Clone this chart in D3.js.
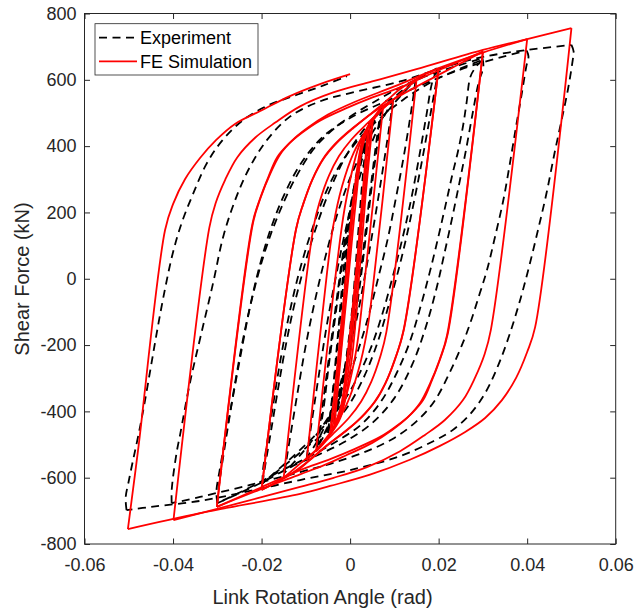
<!DOCTYPE html>
<html>
<head>
<meta charset="utf-8">
<script src="https://cdn.jsdelivr.net/npm/d3@7"></script>
<style>
  body { margin: 0; background: #fff; }
  svg { display: block; font-family: "Liberation Sans", Arial, sans-serif; }
</style>
</head>
<body>
<div id="chart"></div>
<script>
// axis ticks
var xTicks = [-0.06, -0.04, -0.02, 0, 0.02, 0.04, 0.06];
var yTicks = [-800, -600, -400, -200, 0, 200, 400, 600, 800];

// experiment, descending branches [rotation (rad), shear (kN)]
var expDown = [
  [[0.0500,705],[0.0505,685],[0.0503,660],[0.0492,570],[0.0478,480],[0.0462,380],[0.0444,260],[0.0425,150],[0.0405,40],[0.0385,-60],[0.0361,-165],[0.0335,-260],[0.0305,-345],[0.0270,-410],[0.0230,-458],[0.0188,-490],[0.0113,-535],[0,-577],[-0.0113,-607],[-0.0226,-640],[-0.0339,-670],[-0.0450,-688],[-0.0505,-698]],
  [[0.0399,688],[0.0403,670],[0.0398,640],[0.0388,560],[0.0375,460],[0.0360,340],[0.0346,236],[0.0328,130],[0.0310,30],[0.0293,-44],[0.0263,-165],[0.0226,-280],[0.0190,-370],[0.0150,-430],[0.0100,-480],[0.0038,-520],[-0.0038,-555],[-0.0113,-583],[-0.0226,-622],[-0.0339,-658],[-0.0403,-677]],
  [[0.0299,665],[0.0301,640],[0.0290,590],[0.0277,500],[0.0262,390],[0.0247,290],[0.0230,180],[0.0212,70],[0.0195,-30],[0.0170,-150],[0.0140,-260],[0.0100,-360],[0.0050,-435],[-0.0010,-490],[-0.0070,-530],[-0.0130,-565],[-0.0200,-615],[-0.0300,-677]],
  [[0.0299,660],[0.0285,640],[0.0272,610],[0.0263,530],[0.0255,460],[0.0243,380],[0.0232,320],[0.0218,236],[0.0200,130],[0.0180,20],[0.0160,-80],[0.0135,-190],[0.0105,-285],[0.0070,-370],[0.0025,-440],[-0.0030,-490],[-0.0090,-535],[-0.0150,-575],[-0.0220,-625],[-0.0300,-677]],
  [[0.0196,635],[0.0197,615],[0.0190,560],[0.0178,470],[0.0163,360],[0.0147,250],[0.0128,130],[0.0108,20],[0.0085,-90],[0.0060,-200],[0.0030,-300],[-0.0005,-385],[-0.0050,-455],[-0.0100,-510],[-0.0150,-565],[-0.0198,-617]],
  [[0.0196,630],[0.0185,590],[0.0172,490],[0.0155,360],[0.0138,240],[0.0118,120],[0.0097,10],[0.0072,-110],[0.0045,-215],[0.0012,-310],[-0.0025,-390],[-0.0070,-460],[-0.0120,-525],[-0.0198,-617]],
  [[0.0148,600],[0.0145,570],[0.0135,480],[0.0120,360],[0.0103,240],[0.0085,120],[0.0063,0],[0.0040,-120],[0.0012,-240],[-0.0020,-350],[-0.0060,-440],[-0.0105,-520],[-0.0148,-585]],
  [[0.0097,540],[0.0093,500],[0.0082,400],[0.0068,280],[0.0052,150],[0.0035,20],[0.0015,-120],[-0.0010,-260],[-0.0040,-390],[-0.0070,-480],[-0.0098,-540]],
  [[0.0072,520],[0.0064,430],[0.0050,290],[0.0035,120],[0.0020,-40],[0.0002,-200],[-0.0022,-340],[-0.0050,-450],[-0.0075,-510]],
  [[0.0070,515],[0.0060,420],[0.0046,270],[0.0031,100],[0.0016,-60],[-0.0003,-215],[-0.0027,-350],[-0.0052,-450],[-0.0075,-505]],
  [[0.0050,480],[0.0040,360],[0.0029,200],[0.0018,30],[0.0005,-140],[-0.0012,-290],[-0.0032,-400],[-0.0050,-465]],
  [[0.0050,475],[0.0038,345],[0.0026,180],[0.0014,10],[0.0001,-160],[-0.0016,-300],[-0.0034,-400],[-0.0050,-460]],
  [[0.0038,440],[0.0028,300],[0.0016,100],[0.0004,-100],[-0.0012,-270],[-0.0026,-380],[-0.0038,-430]]
];

// experiment, ascending branches
var expUp = [
  [[-0.0505,-698],[-0.0507,-660],[-0.0500,-610],[-0.0490,-545],[-0.0478,-470],[-0.0465,-380],[-0.0450,-265],[-0.0435,-150],[-0.0418,-30],[-0.0400,80],[-0.0380,170],[-0.0355,255],[-0.0325,345],[-0.0290,415],[-0.0245,475],[-0.0190,520],[-0.0120,555],[-0.0060,583],[-0.0007,611]],
  [[-0.0403,-677],[-0.0403,-637],[-0.0392,-525],[-0.0384,-470],[-0.0362,-315],[-0.0337,-170],[-0.0309,-10],[-0.0286,130],[-0.0256,250],[-0.0226,338],[-0.0188,418],[-0.0136,489],[-0.0068,535],[0,560],[0.0113,595],[0.0210,637],[0.0300,669],[0.0400,690],[0.0500,705]],
  [[-0.0300,-677],[-0.0302,-640],[-0.0295,-580],[-0.0283,-490],[-0.0268,-380],[-0.0250,-250],[-0.0230,-110],[-0.0208,20],[-0.0182,140],[-0.0150,250],[-0.0110,350],[-0.0060,430],[0,485],[0.0080,535],[0.0180,595],[0.0280,645],[0.0399,688]],
  [[-0.0300,-677],[-0.0296,-620],[-0.0287,-540],[-0.0274,-430],[-0.0258,-300],[-0.0240,-170],[-0.0218,-40],[-0.0193,80],[-0.0163,190],[-0.0125,300],[-0.0080,395],[-0.0025,465],[0.0050,530],[0.0150,600],[0.0299,665]],
  [[-0.0198,-617],[-0.0197,-580],[-0.0188,-500],[-0.0175,-390],[-0.0158,-250],[-0.0138,-110],[-0.0115,20],[-0.0088,140],[-0.0055,260],[-0.0015,360],[0.0040,450],[0.0120,540],[0.0200,605],[0.0299,660]],
  [[-0.0198,-617],[-0.0192,-565],[-0.0180,-470],[-0.0165,-350],[-0.0148,-220],[-0.0128,-90],[-0.0105,30],[-0.0078,150],[-0.0045,270],[-0.0005,380],[0.0050,480],[0.0120,570],[0.0196,635]],
  [[-0.0148,-585],[-0.0143,-540],[-0.0132,-450],[-0.0117,-330],[-0.0100,-200],[-0.0080,-70],[-0.0057,60],[-0.0030,190],[0.0005,320],[0.0050,440],[0.0100,530],[0.0148,600]],
  [[-0.0098,-540],[-0.0093,-490],[-0.0082,-390],[-0.0067,-260],[-0.0050,-120],[-0.0030,20],[-0.0008,160],[0.0020,300],[0.0055,430],[0.0097,540]],
  [[-0.0075,-510],[-0.0066,-420],[-0.0052,-280],[-0.0036,-120],[-0.0020,40],[-0.0002,200],[0.0022,350],[0.0048,460],[0.0072,520]],
  [[-0.0075,-505],[-0.0062,-410],[-0.0048,-260],[-0.0032,-100],[-0.0016,60],[0.0003,215],[0.0027,360],[0.0050,460],[0.0070,515]],
  [[-0.0050,-465],[-0.0040,-350],[-0.0029,-190],[-0.0018,-20],[-0.0005,150],[0.0012,300],[0.0032,410],[0.0050,480]],
  [[-0.0050,-460],[-0.0038,-340],[-0.0026,-170],[-0.0014,0],[-0.0001,165],[0.0016,310],[0.0034,410],[0.0050,475]],
  [[-0.0038,-430],[-0.0028,-290],[-0.0016,-90],[-0.0004,110],[0.0012,280],[0.0026,390],[0.0038,440]]
];

// FE simulation, descending branches
var feDown = [
  [[0.0500,756],[0.0418,-146],[0.0400,-221],[0.0375,-299],[0.0343,-366],[0.0305,-420],[0.0260,-462],[0.0203,-504],[0.0135,-546],[0.0045,-591],[-0.0045,-625],[-0.0113,-649],[-0.0339,-707],[-0.0502,-755]],
  [[0.0400,723],[0.0318,-154],[0.0304,-227],[0.0282,-299],[0.0255,-366],[0.0214,-426],[0.0169,-471],[0.0113,-520],[0.0038,-568],[-0.0039,-601],[-0.0113,-628],[-0.0249,-676],[-0.0399,-728]],
  [[0.0300,685],[0.0221,-164],[0.0205,-236],[0.0185,-306],[0.0165,-366],[0.0140,-405],[0.0108,-441],[0.0068,-477],[0.0011,-513],[-0.0045,-544],[-0.0113,-577],[-0.0204,-631],[-0.0301,-688]],
  [[0.0300,685],[0.0219,-170],[0.0202,-245],[0.0180,-318],[0.0158,-375],[0.0130,-418],[0.0095,-456],[0.0050,-495],[-0.0010,-533],[-0.0060,-563],[-0.0113,-590],[-0.0204,-636],[-0.0301,-688]],
  [[0.0200,635],[0.0122,-150],[0.0106,-225],[0.0085,-300],[0.0062,-360],[0.0035,-405],[0.0003,-445],[-0.0040,-490],[-0.0085,-540],[-0.0113,-572],[-0.0160,-610],[-0.0200,-637]],
  [[0.0200,635],[0.0120,-160],[0.0102,-240],[0.0080,-315],[0.0055,-372],[0.0025,-418],[-0.0010,-460],[-0.0050,-500],[-0.0090,-545],[-0.0130,-585],[-0.0200,-637]],
  [[0.0150,600],[0.0082,-160],[0.0068,-235],[0.0048,-310],[0.0025,-370],[-0.0003,-420],[-0.0040,-470],[-0.0080,-520],[-0.0115,-560],[-0.0150,-600]],
  [[0.0097,535],[0.0052,-20],[0.0038,-160],[0.0018,-280],[-0.0008,-380],[-0.0040,-455],[-0.0075,-515],[-0.0098,-547]],
  [[0.0075,524],[0.0030,-40],[0.0012,-230],[-0.0020,-400],[-0.0050,-480],[-0.0077,-521]],
  [[0.0052,485],[0.0035,250],[0.0020,0],[0.0003,-250],[-0.0022,-420],[-0.0045,-470]],
  [[0.0050,480],[0.0030,220],[0.0015,-20],[-0.0002,-260],[-0.0025,-420],[-0.0045,-465]],
  [[0.0045,470],[0.0028,230],[0.0014,0],[-0.0003,-230],[-0.0022,-400],[-0.0040,-455]],
  [[0.0040,450],[0.0026,220],[0.0012,0],[-0.0005,-220],[-0.0020,-380],[-0.0035,-440]]
];

// FE simulation, ascending branches
var feUp = [
  [[-0.0502,-755],[-0.0479,-517],[-0.0418,147],[-0.0400,225],[-0.0373,300],[-0.0339,364],[-0.0303,418],[-0.0260,467],[-0.0203,506],[-0.0136,551],[-0.0068,587],[0,617]],
  [[-0.0399,-728],[-0.0318,154],[-0.0304,227],[-0.0282,299],[-0.0255,366],[-0.0214,426],[-0.0169,471],[-0.0113,520],[-0.0038,562],[0.0050,595],[0.0150,632],[0.0300,690],[0.0400,723],[0.0500,756]],
  [[-0.0301,-688],[-0.0219,170],[-0.0202,245],[-0.0180,318],[-0.0158,375],[-0.0130,418],[-0.0095,456],[-0.0050,495],[0.0010,533],[0.0100,580],[0.0200,635],[0.0300,682],[0.0400,723]],
  [[-0.0301,-688],[-0.0221,164],[-0.0205,236],[-0.0185,306],[-0.0165,366],[-0.0140,405],[-0.0108,441],[-0.0068,477],[-0.0011,513],[0.0045,544],[0.0113,577],[0.0204,631],[0.0300,685]],
  [[-0.0200,-637],[-0.0122,150],[-0.0106,225],[-0.0085,300],[-0.0060,362],[-0.0030,410],[0.0005,452],[0.0050,500],[0.0110,550],[0.0200,615],[0.0300,685]],
  [[-0.0200,-637],[-0.0122,150],[-0.0106,225],[-0.0085,300],[-0.0062,360],[-0.0035,405],[-0.0003,445],[0.0040,490],[0.0085,540],[0.0113,572],[0.0160,610],[0.0200,635]],
  [[-0.0150,-600],[-0.0082,160],[-0.0068,235],[-0.0048,310],[-0.0025,370],[0.0003,420],[0.0040,470],[0.0080,520],[0.0115,560],[0.0150,600]],
  [[-0.0098,-547],[-0.0052,20],[-0.0038,160],[-0.0018,280],[0.0008,380],[0.0040,455],[0.0075,515],[0.0097,535]],
  [[-0.0077,-521],[-0.0030,40],[-0.0010,230],[0.0020,400],[0.0050,480],[0.0075,524]],
  [[-0.0045,-470],[-0.0028,-250],[-0.0010,0],[0.0008,250],[0.0030,430],[0.0052,485]],
  [[-0.0045,-465],[-0.0025,-230],[-0.0008,20],[0.0012,270],[0.0032,430],[0.0050,480]],
  [[-0.0040,-455],[-0.0022,-230],[-0.0006,0],[0.0010,240],[0.0028,410],[0.0045,470]],
  [[-0.0035,-440],[-0.0020,-220],[-0.0004,0],[0.0012,220],[0.0027,390],[0.0040,450]]
];

var width = 637, height = 611;
var plotL = 84.5, plotR = 615.7, plotT = 13.5, plotB = 544;
var ink = "#262626";
var dash = "8,5.5";

var svg = d3.select("#chart").append("svg")
  .attr("width", width)
  .attr("height", height);

svg.append("rect").attr("width", width).attr("height", height).attr("fill", "#fff");

var x = d3.scaleLinear().domain([-0.06, 0.06]).range([plotL, plotR]);
var y = d3.scaleLinear().domain([-800, 800]).range([plotB, plotT]);

var line = d3.line()
  .x(function(d) { return x(d[0]); })
  .y(function(d) { return y(d[1]); })
  .curve(d3.curveCatmullRom.alpha(0.5));

// experiment first, FE on top
var gExp = svg.append("g").attr("id", "experiment");
gExp.selectAll("path").data(expDown.concat(expUp)).enter().append("path")
  .attr("d", line)
  .attr("fill", "none")
  .attr("stroke", "#000")
  .attr("stroke-width", 1.8)
  .attr("stroke-dasharray", dash);

var gFe = svg.append("g").attr("id", "fe");
gFe.selectAll("path").data(feDown.concat(feUp)).enter().append("path")
  .attr("d", line)
  .attr("fill", "none")
  .attr("stroke", "#ff0000")
  .attr("stroke-width", 1.8);

// axes, ticks pointing in
var fmt = function(d) { return String(d); };
var tk = 5.5;

svg.append("g").attr("transform", "translate(0," + plotB + ")")
  .call(d3.axisBottom(x).tickValues(xTicks).tickFormat(fmt).tickSizeInner(-tk).tickSizeOuter(0).tickPadding(14));
svg.append("g").attr("transform", "translate(0," + plotT + ")")
  .call(d3.axisTop(x).tickValues(xTicks).tickFormat("").tickSizeInner(-tk).tickSizeOuter(0));
svg.append("g").attr("transform", "translate(" + plotL + ",0)")
  .call(d3.axisLeft(y).tickValues(yTicks).tickFormat(fmt).tickSizeInner(-tk).tickSizeOuter(0).tickPadding(8));
svg.append("g").attr("transform", "translate(" + plotR + ",0)")
  .call(d3.axisRight(y).tickValues(yTicks).tickFormat("").tickSizeInner(-tk).tickSizeOuter(0));

svg.selectAll(".domain").remove();
svg.selectAll(".tick line").attr("stroke", ink);
svg.selectAll(".tick text").attr("fill", ink).style("font-size", "18px")
  .style("font-family", "'Liberation Sans', Arial, sans-serif");

svg.append("rect")
  .attr("x", plotL).attr("y", plotT)
  .attr("width", plotR - plotL).attr("height", plotB - plotT)
  .attr("fill", "none").attr("stroke", ink).attr("stroke-width", 1);

// axis titles
svg.append("text")
  .attr("x", 322.5).attr("y", 604)
  .attr("text-anchor", "middle")
  .attr("fill", ink).style("font-size", "20px")
  .text("Link Rotation Angle (rad)");

svg.append("text")
  .attr("transform", "translate(29,279) rotate(-90)")
  .attr("text-anchor", "middle")
  .attr("fill", ink).style("font-size", "20px")
  .text("Shear Force (kN)");

// legend
var legend = svg.append("g").attr("id", "legend");
legend.append("rect")
  .attr("x", 95).attr("y", 23.7).attr("width", 163).attr("height", 51.3)
  .attr("fill", "#fff").attr("stroke", ink).attr("stroke-width", 0.8);

var legendItems = [
  { name: "Experiment", color: "#000", dash: dash, y: 37.7 },
  { name: "FE Simulation", color: "#ff0000", dash: null, y: 61.3 }
];
legendItems.forEach(function(it) {
  legend.append("line")
    .attr("x1", 99).attr("x2", 137).attr("y1", it.y).attr("y2", it.y)
    .attr("stroke", it.color).attr("stroke-width", 1.8)
    .attr("stroke-dasharray", it.dash);
  legend.append("text")
    .attr("x", 140).attr("y", it.y + 6.5)
    .attr("fill", "#000").style("font-size", "18px")
    .text(it.name);
});
</script>
</body>
</html>
